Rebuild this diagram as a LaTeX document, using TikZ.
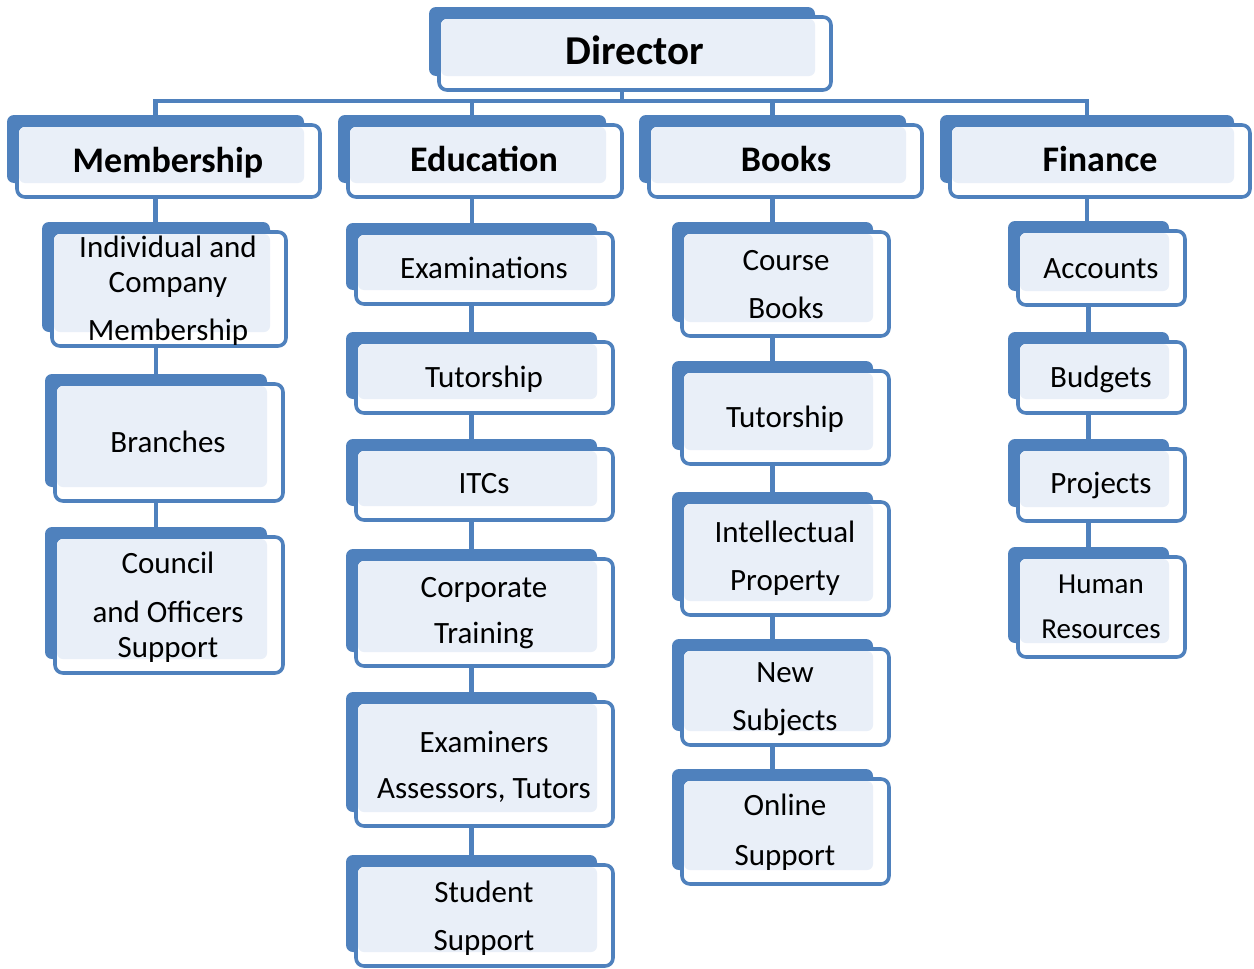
\documentclass[tikz,border=0pt]{standalone}
\usepackage{fontspec}
\setmainfont{Carlito}
\usetikzlibrary{fit}
\pgfdeclarelayer{bg}
\pgfsetlayers{bg,main}
\definecolor{dkb}{RGB}{79,129,189}
\definecolor{lgb}{RGB}{233,239,248}
\tikzset{
  backbox/.style={fill=dkb, rounded corners=7pt, inner sep=0pt, outer sep=0pt},
  frontbox/.style={draw=dkb, fill=white, line width=3.6pt, rounded corners=8pt},
  lightfill/.style={fill=lgb, rounded corners=6pt},
  conn/.style={draw=dkb, line width=4.5pt},
  dirtext/.style={font=\fontsize{41}{46}\selectfont\bfseries, inner sep=0pt, anchor=base},
  headtext/.style={font=\fontsize{36}{40}\selectfont\bfseries, inner sep=0pt, anchor=base},
  itemtext/.style={font=\fontsize{31}{36}\selectfont, inner sep=0pt, anchor=base},
}
% name, x0, y0, x1, y1 (outer edges of front frame)
\newcommand\orgbox[5]{%
  \node[backbox, fit={(#2-8,#3-8)(#4-18,#5-16)}] (#1) {};
  \draw[frontbox] (#2+2,#3+2) rectangle (#4-2,#5-2);
  \fill[lightfill] (#2+4,#3+4) rectangle (#4-18,#5-16);
}
\begin{document}
\begin{tikzpicture}[x=1pt,y=-1pt]
\useasboundingbox (0,0) rectangle (1254,969);

% Director
\orgbox{dir}{437}{15}{833}{92}
\node[dirtext] (dir-t) at (635,64) {Director};

% Level 1
\orgbox{mem}{15}{123}{322}{199}
\node[headtext] (mem-t) at (168,172) {Membership};
\orgbox{edu}{346}{123}{624}{199}
\node[headtext] (edu-t) at (484,171) {Education};
\orgbox{bks}{647}{123}{924}{199}
\node[headtext] (bks-t) at (786,171) {Books};
\orgbox{fin}{948}{123}{1252}{199}
\node[headtext] (fin-t) at (1100,171) {Finance};

% Membership column
\orgbox{ind}{50}{230}{288}{348}
\node[itemtext] (ind-a) at (168,257) {Individual and};
\node[itemtext] (ind-b) at (168,292) {Company};
\node[itemtext] (ind-c) at (168,340) {Membership};
\orgbox{bra}{53}{382}{285}{503}
\node[itemtext] (bra-t) at (168,452) {Branches};
\orgbox{cou}{53}{535}{285}{675}
\node[itemtext] (cou-a) at (168,573) {Council};
\node[itemtext] (cou-b) at (168,622) {and Officers};
\node[itemtext] (cou-c) at (168,657) {Support};

% Education column
\orgbox{exa}{354}{231}{615}{306}
\node[itemtext] (exa-t) at (484,278) {Examinations};
\orgbox{tue}{354}{340}{615}{415}
\node[itemtext] (tue-t) at (484,387) {Tutorship};
\orgbox{itc}{354}{447}{615}{522}
\node[itemtext] (itc-t) at (484,493) {ITCs};
\orgbox{cor}{354}{557}{615}{668}
\node[itemtext] (cor-a) at (484,597) {Corporate};
\node[itemtext] (cor-b) at (484,643) {Training};
\orgbox{exr}{354}{700}{615}{828}
\node[itemtext] (exr-a) at (484,752) {Examiners};
\node[itemtext] (exr-b) at (484,798) {Assessors, Tutors};
\orgbox{stu}{354}{863}{615}{968}
\node[itemtext] (stu-a) at (484,902) {Student};
\node[itemtext] (stu-b) at (484,950) {Support};

% Books column
\orgbox{cbk}{680}{230}{891}{338}
\node[itemtext] (cbk-a) at (786,270) {Course};
\node[itemtext] (cbk-b) at (786,318) {Books};
\orgbox{tub}{680}{369}{891}{466}
\node[itemtext] (tub-t) at (785,427) {Tutorship};
\orgbox{ipr}{680}{500}{891}{617}
\node[itemtext] (ipr-a) at (785,542) {Intellectual};
\node[itemtext] (ipr-b) at (785,590) {Property};
\orgbox{nsu}{680}{647}{891}{747}
\node[itemtext] (nsu-a) at (785,682) {New};
\node[itemtext] (nsu-b) at (785,730) {Subjects};
\orgbox{ons}{680}{777}{891}{886}
\node[itemtext] (ons-a) at (785,815) {Online};
\node[itemtext] (ons-b) at (785,865) {Support};

% Finance column
\orgbox{acc}{1016}{229}{1187}{307}
\node[itemtext] (acc-t) at (1101,278) {Accounts};
\orgbox{bud}{1016}{340}{1187}{415}
\node[itemtext] (bud-t) at (1101,387) {Budgets};
\orgbox{pro}{1016}{447}{1187}{523}
\node[itemtext] (pro-t) at (1101,493) {Projects};
\orgbox{hr}{1016}{555}{1187}{659}
\node[itemtext, font=\fontsize{29}{34}\selectfont] (hr-a) at (1101,593) {Human};
\node[itemtext, font=\fontsize{29}{34}\selectfont] (hr-b) at (1101,638) {Resources};

% Connectors (behind the boxes)
\begin{pgfonlayer}{bg}
\coordinate (j) at (dir.south |- 0,101);
\draw[conn] (dir.south) -- (j);
\draw[conn, line cap=rect] (mem.north) |- (fin.north |- j) -- (fin.north);
\draw[conn] (edu.north) -- (edu.north |- j);
\draw[conn] (bks.north) -- (bks.north |- j);

\draw[conn] (mem.south) -- (mem.south |- ind.north);
\draw[conn] (ind.south) -- (ind.south |- bra.north);
\draw[conn] (bra.south) -- (bra.south |- cou.north);

\draw[conn] (edu.south) -- (edu.south |- exa.north);
\draw[conn] (exa.south) -- (exa.south |- tue.north);
\draw[conn] (tue.south) -- (tue.south |- itc.north);
\draw[conn] (itc.south) -- (itc.south |- cor.north);
\draw[conn] (cor.south) -- (cor.south |- exr.north);
\draw[conn] (exr.south) -- (exr.south |- stu.north);

\draw[conn] (bks.south) -- (bks.south |- cbk.north);
\draw[conn] (cbk.south) -- (cbk.south |- tub.north);
\draw[conn] (tub.south) -- (tub.south |- ipr.north);
\draw[conn] (ipr.south) -- (ipr.south |- nsu.north);
\draw[conn] (nsu.south) -- (nsu.south |- ons.north);

\draw[conn] (fin.south) -- (fin.south |- acc.north);
\draw[conn] (acc.south) -- (acc.south |- bud.north);
\draw[conn] (bud.south) -- (bud.south |- pro.north);
\draw[conn] (pro.south) -- (pro.south |- hr.north);
\end{pgfonlayer}
\end{tikzpicture}
\end{document}
